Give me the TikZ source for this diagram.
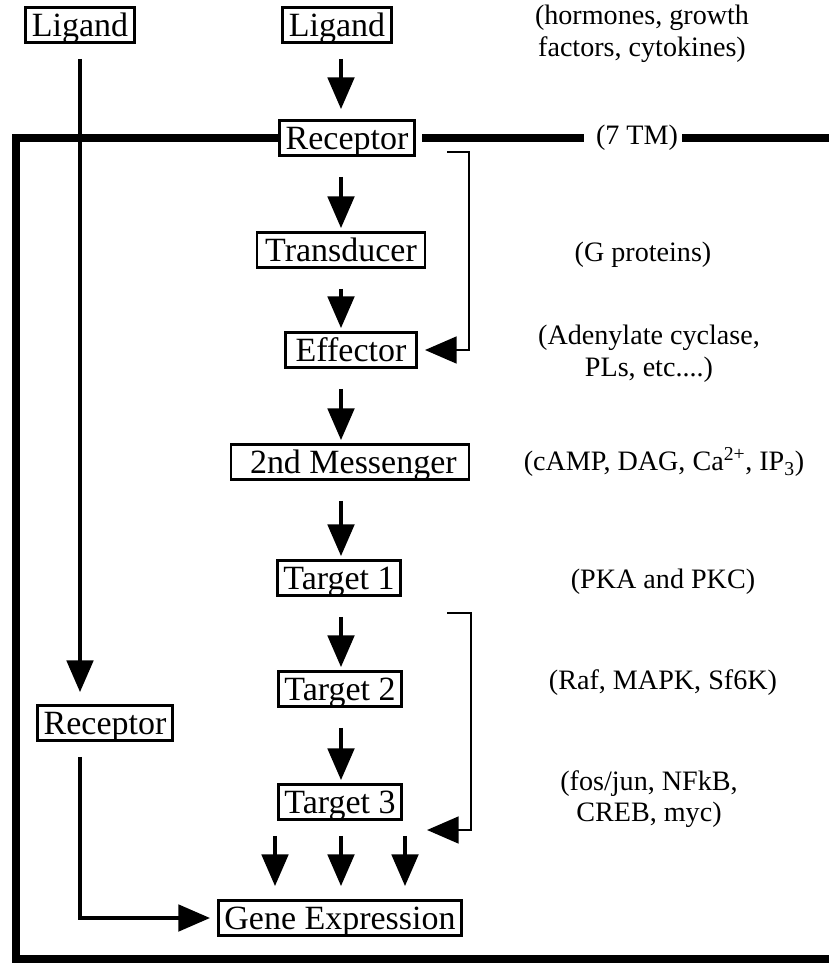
\documentclass[tikz,border=0pt]{standalone}
\usepackage{fontspec}
\setmainfont{Liberation Serif}
\usetikzlibrary{arrows.meta,positioning,calc}

\begin{document}
\begin{tikzpicture}[
  x=0.03cm, y=-0.03cm,
  >={Triangle[length=0.95cm,width=0.8cm]},
  sbox/.style={draw, line width=2.5pt, inner xsep=0.18cm, inner ysep=0pt, minimum height=1.05cm, text height=0.81cm, text depth=0.1cm, font=\fontsize{29}{34}\selectfont},
  arr/.style={->, line width=2.6pt, shorten <=0.6cm, shorten >=0.09cm},
  fb/.style={->, line width=2.4pt},
  memb/.style={line width=7.5pt, line join=miter},
  note/.style={align=center, font=\fontsize{24}{27}\selectfont},
]
\useasboundingbox (0,0) rectangle (828,966);

% boxes
\node[sbox] (lig1) at (80,25) {Ligand};
\node[sbox] (lig2) at (337,25) {Ligand};
\node[sbox] (rec1) at (347,138) {Receptor};
\node[sbox, minimum width=5.04cm] (trans) at (341,250) {Transducer};
\node[sbox, minimum width=3.93cm] (eff) at (351,350) {Effector};
\node[sbox, minimum width=7.14cm] (msg) at (350,462) {\hspace{0.2cm}2nd Messenger};
\node[sbox] (tgt1) at (339,578) {Target 1};
\node[sbox] (tgt2) at (340,689) {Target 2};
\node[sbox] (tgt3) at (340,802) {Target 3};
\node[sbox] (rec2) at (105,723) {Receptor};
\node[sbox] (gene) at (340,918) {Gene Expression};

% notes
\node[note] (nlig) at (642,34) {(hormones, growth\\ factors, cytokines)};
\node[note] (tm) at (637,138) {(7 TM)};
\node[note] (ntrans) at (643,255) {(G proteins)};
\node[note] (neff) at (649,354) {(Adenylate cyclase,\\ PLs, etc....)};
\node[note] (nmsg) at (664,462) {(cAMP, DAG, Ca\textsuperscript{2+}, IP\textsubscript{3})};
\node[note] (ntgt1) at (663,582) {(PKA and PKC)};
\node[note] (ntgt2) at (663,683) {(Raf, MAPK, Sf6K)};
\node[note] (ntgt3) at (649,799) {(fos/jun, NFkB,\\ CREB, myc)};

% membrane and cell outline
\draw[memb] (rec1.west) -- (16,138) -- (16,959) -- (840,959);
\draw[memb, shorten <=0.2cm, shorten >=0.24cm] (rec1.east) -- (tm.west);
\draw[memb] (tm.east) -- (840,138);

% main cascade
\coordinate (col) at (341,0);
\draw[arr, shorten <=0.45cm, shorten >=0.3cm] (col |- lig2.south) -- (col |- rec1.north);
\draw[arr] (col |- rec1.south) -- (col |- trans.north);
\draw[arr] (col |- trans.south) -- (col |- eff.north);
\draw[arr] (col |- eff.south) -- (col |- msg.north);
\draw[arr] (col |- msg.south) -- (col |- tgt1.north);
\draw[arr] (col |- tgt1.south) -- (col |- tgt2.north);
\draw[arr] (col |- tgt2.south) -- (col |- tgt3.north);
\foreach \dx in {-66,0,64}
  \draw[arr, shorten <=0.45cm, shorten >=0.39cm] ($(col |- tgt3.south)+(\dx,0)$) -- ($(col |- gene.north)+(\dx,0)$);

% nuclear receptor path
\draw[arr, shorten <=0.45cm, shorten >=0.36cm] (lig1.south) -- (lig1.south |- rec2.north);
\draw[arr, shorten <=0.45cm, shorten >=0.21cm] (lig1 |- rec2.south) |- (gene.west);

% bypass brackets
\coordinate (fb1) at (447,152);
\draw[fb, shorten >=0.21cm] (fb1) -- ++(22,0) |- (eff.east);
\coordinate (fb2) at (447,613);
\coordinate (fb2end) at (427,830);
\draw[fb] (fb2) -- ++(24,0) |- (fb2end);

\end{tikzpicture}
\end{document}
